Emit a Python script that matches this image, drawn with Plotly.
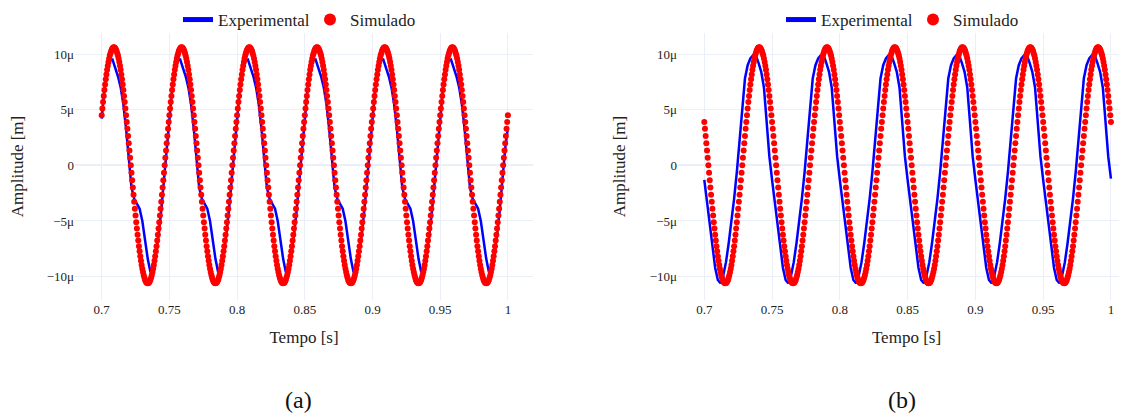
import numpy as np
import plotly.graph_objects as go

# ---------------- data (micrometres) ----------------
# Simulated response, panel (a): one sample every 0.5 ms from t = 0.7 s
sim_a_um = [
    4.51, 5.11, 5.68, 6.23, 6.76, 7.26, 7.73, 8.17, 8.58, 8.95, 9.29, 9.59, 9.86, 10.08, 10.27, 10.41, 10.52, 10.58, 10.60, 10.58, 10.52, 10.41, 10.27, 10.08, 9.86, 9.59, 9.29, 8.95, 8.58, 8.17, 7.73, 7.26, 6.76, 6.23, 5.68, 5.11, 4.51, 3.90, 3.28, 2.64, 1.99, 1.33, 0.67, 0.00, -0.67, -1.33, -1.99, -2.64, -3.28, -3.90, -4.51, -5.11, -5.68, -6.23, -6.76, -7.26, -7.73, -8.17, -8.58, -8.95, -9.29, -9.59, -9.86, -10.08, -10.27, -10.41, -10.52, -10.58, -10.60, -10.58, -10.52, -10.41, -10.27, -10.08, -9.86, -9.59, -9.29, -8.95, -8.58, -8.17, -7.73, -7.26, -6.76, -6.23, -5.68, -5.11, -4.51, -3.90, -3.28, -2.64, -1.99, -1.33, -0.67, 0.00, 0.67, 1.33, 1.99, 2.64, 3.28, 3.90,
    4.51, 5.11, 5.68, 6.23, 6.76, 7.26, 7.73, 8.17, 8.58, 8.95, 9.29, 9.59, 9.86, 10.08, 10.27, 10.41, 10.52, 10.58, 10.60, 10.58, 10.52, 10.41, 10.27, 10.08, 9.86, 9.59, 9.29, 8.95, 8.58, 8.17, 7.73, 7.26, 6.76, 6.23, 5.68, 5.11, 4.51, 3.90, 3.28, 2.64, 1.99, 1.33, 0.67, 0.00, -0.67, -1.33, -1.99, -2.64, -3.28, -3.90, -4.51, -5.11, -5.68, -6.23, -6.76, -7.26, -7.73, -8.17, -8.58, -8.95, -9.29, -9.59, -9.86, -10.08, -10.27, -10.41, -10.52, -10.58, -10.60, -10.58, -10.52, -10.41, -10.27, -10.08, -9.86, -9.59, -9.29, -8.95, -8.58, -8.17, -7.73, -7.26, -6.76, -6.23, -5.68, -5.11, -4.51, -3.90, -3.28, -2.64, -1.99, -1.33, -0.67, 0.00, 0.67, 1.33, 1.99, 2.64, 3.28, 3.90,
    4.51, 5.11, 5.68, 6.23, 6.76, 7.26, 7.73, 8.17, 8.58, 8.95, 9.29, 9.59, 9.86, 10.08, 10.27, 10.41, 10.52, 10.58, 10.60, 10.58, 10.52, 10.41, 10.27, 10.08, 9.86, 9.59, 9.29, 8.95, 8.58, 8.17, 7.73, 7.26, 6.76, 6.23, 5.68, 5.11, 4.51, 3.90, 3.28, 2.64, 1.99, 1.33, 0.67, 0.00, -0.67, -1.33, -1.99, -2.64, -3.28, -3.90, -4.51, -5.11, -5.68, -6.23, -6.76, -7.26, -7.73, -8.17, -8.58, -8.95, -9.29, -9.59, -9.86, -10.08, -10.27, -10.41, -10.52, -10.58, -10.60, -10.58, -10.52, -10.41, -10.27, -10.08, -9.86, -9.59, -9.29, -8.95, -8.58, -8.17, -7.73, -7.26, -6.76, -6.23, -5.68, -5.11, -4.51, -3.90, -3.28, -2.64, -1.99, -1.33, -0.67, 0.00, 0.67, 1.33, 1.99, 2.64, 3.28, 3.90,
    4.51, 5.11, 5.68, 6.23, 6.76, 7.26, 7.73, 8.17, 8.58, 8.95, 9.29, 9.59, 9.86, 10.08, 10.27, 10.41, 10.52, 10.58, 10.60, 10.58, 10.52, 10.41, 10.27, 10.08, 9.86, 9.59, 9.29, 8.95, 8.58, 8.17, 7.73, 7.26, 6.76, 6.23, 5.68, 5.11, 4.51, 3.90, 3.28, 2.64, 1.99, 1.33, 0.67, 0.00, -0.67, -1.33, -1.99, -2.64, -3.28, -3.90, -4.51, -5.11, -5.68, -6.23, -6.76, -7.26, -7.73, -8.17, -8.58, -8.95, -9.29, -9.59, -9.86, -10.08, -10.27, -10.41, -10.52, -10.58, -10.60, -10.58, -10.52, -10.41, -10.27, -10.08, -9.86, -9.59, -9.29, -8.95, -8.58, -8.17, -7.73, -7.26, -6.76, -6.23, -5.68, -5.11, -4.51, -3.90, -3.28, -2.64, -1.99, -1.33, -0.67, 0.00, 0.67, 1.33, 1.99, 2.64, 3.28, 3.90,
    4.51, 5.11, 5.68, 6.23, 6.76, 7.26, 7.73, 8.17, 8.58, 8.95, 9.29, 9.59, 9.86, 10.08, 10.27, 10.41, 10.52, 10.58, 10.60, 10.58, 10.52, 10.41, 10.27, 10.08, 9.86, 9.59, 9.29, 8.95, 8.58, 8.17, 7.73, 7.26, 6.76, 6.23, 5.68, 5.11, 4.51, 3.90, 3.28, 2.64, 1.99, 1.33, 0.67, 0.00, -0.67, -1.33, -1.99, -2.64, -3.28, -3.90, -4.51, -5.11, -5.68, -6.23, -6.76, -7.26, -7.73, -8.17, -8.58, -8.95, -9.29, -9.59, -9.86, -10.08, -10.27, -10.41, -10.52, -10.58, -10.60, -10.58, -10.52, -10.41, -10.27, -10.08, -9.86, -9.59, -9.29, -8.95, -8.58, -8.17, -7.73, -7.26, -6.76, -6.23, -5.68, -5.11, -4.51, -3.90, -3.28, -2.64, -1.99, -1.33, -0.67, 0.00, 0.67, 1.33, 1.99, 2.64, 3.28, 3.90,
    4.51, 5.11, 5.68, 6.23, 6.76, 7.26, 7.73, 8.17, 8.58, 8.95, 9.29, 9.59, 9.86, 10.08, 10.27, 10.41, 10.52, 10.58, 10.60, 10.58, 10.52, 10.41, 10.27, 10.08, 9.86, 9.59, 9.29, 8.95, 8.58, 8.17, 7.73, 7.26, 6.76, 6.23, 5.68, 5.11, 4.51, 3.90, 3.28, 2.64, 1.99, 1.33, 0.67, 0.00, -0.67, -1.33, -1.99, -2.64, -3.28, -3.90, -4.51, -5.11, -5.68, -6.23, -6.76, -7.26, -7.73, -8.17, -8.58, -8.95, -9.29, -9.59, -9.86, -10.08, -10.27, -10.41, -10.52, -10.58, -10.60, -10.58, -10.52, -10.41, -10.27, -10.08, -9.86, -9.59, -9.29, -8.95, -8.58, -8.17, -7.73, -7.26, -6.76, -6.23, -5.68, -5.11, -4.51, -3.90, -3.28, -2.64, -1.99, -1.33, -0.67, 0.00, 0.67, 1.33, 1.99, 2.64, 3.28, 3.90,
    4.51,
]

# Experimental response, panel (a): one sample every 2 ms from t = 0.7 s
exp_a_um = [
    4.2, 6.8, 8.6, 9.4, 9.5, 8.8, 8.0, 7.0, 5.5, 3.3, 0.6, -2.0, -3.0, -3.5, -3.9, -5.0, -6.7, -8.4, -9.6, -9.0, -7.9, -6.3, -4.0, -1.3, 1.5,
    4.2, 6.8, 8.6, 9.4, 9.5, 8.8, 8.0, 7.0, 5.5, 3.3, 0.6, -2.0, -3.0, -3.5, -3.9, -5.0, -6.7, -8.4, -9.6, -9.0, -7.9, -6.3, -4.0, -1.3, 1.5,
    4.2, 6.8, 8.6, 9.4, 9.5, 8.8, 8.0, 7.0, 5.5, 3.3, 0.6, -2.0, -3.0, -3.5, -3.9, -5.0, -6.7, -8.4, -9.6, -9.0, -7.9, -6.3, -4.0, -1.3, 1.5,
    4.2, 6.8, 8.6, 9.4, 9.5, 8.8, 8.0, 7.0, 5.5, 3.3, 0.6, -2.0, -3.0, -3.5, -3.9, -5.0, -6.7, -8.4, -9.6, -9.0, -7.9, -6.3, -4.0, -1.3, 1.5,
    4.2, 6.8, 8.6, 9.4, 9.5, 8.8, 8.0, 7.0, 5.5, 3.3, 0.6, -2.0, -3.0, -3.5, -3.9, -5.0, -6.7, -8.4, -9.6, -9.0, -7.9, -6.3, -4.0, -1.3, 1.5,
    4.2, 6.8, 8.6, 9.4, 9.5, 8.8, 8.0, 7.0, 5.5, 3.3, 0.6, -2.0, -3.0, -3.5, -3.9, -5.0, -6.7, -8.4, -9.6, -9.0, -7.9, -6.3, -4.0, -1.3, 1.5,
    3.4,
]

# Simulated response, panel (b): one sample every 0.5 ms from t = 0.7 s
sim_b_um = [
    3.90, 3.28, 2.64, 1.99, 1.33, 0.67, 0.00, -0.67, -1.33, -1.99, -2.64, -3.28, -3.90, -4.51, -5.11, -5.68, -6.23, -6.76, -7.26, -7.73, -8.17, -8.58, -8.95, -9.29, -9.59, -9.86, -10.08, -10.27, -10.41, -10.52, -10.58, -10.60, -10.58, -10.52, -10.41, -10.27, -10.08, -9.86, -9.59, -9.29, -8.95, -8.58, -8.17, -7.73, -7.26, -6.76, -6.23, -5.68, -5.11, -4.51, -3.90, -3.28, -2.64, -1.99, -1.33, -0.67, 0.00, 0.67, 1.33, 1.99, 2.64, 3.28, 3.90, 4.51, 5.11, 5.68, 6.23, 6.76, 7.26, 7.73, 8.17, 8.58, 8.95, 9.29, 9.59, 9.86, 10.08, 10.27, 10.41, 10.52, 10.58, 10.60, 10.58, 10.52, 10.41, 10.27, 10.08, 9.86, 9.59, 9.29, 8.95, 8.58, 8.17, 7.73, 7.26, 6.76, 6.23, 5.68, 5.11, 4.51,
    3.90, 3.28, 2.64, 1.99, 1.33, 0.67, 0.00, -0.67, -1.33, -1.99, -2.64, -3.28, -3.90, -4.51, -5.11, -5.68, -6.23, -6.76, -7.26, -7.73, -8.17, -8.58, -8.95, -9.29, -9.59, -9.86, -10.08, -10.27, -10.41, -10.52, -10.58, -10.60, -10.58, -10.52, -10.41, -10.27, -10.08, -9.86, -9.59, -9.29, -8.95, -8.58, -8.17, -7.73, -7.26, -6.76, -6.23, -5.68, -5.11, -4.51, -3.90, -3.28, -2.64, -1.99, -1.33, -0.67, 0.00, 0.67, 1.33, 1.99, 2.64, 3.28, 3.90, 4.51, 5.11, 5.68, 6.23, 6.76, 7.26, 7.73, 8.17, 8.58, 8.95, 9.29, 9.59, 9.86, 10.08, 10.27, 10.41, 10.52, 10.58, 10.60, 10.58, 10.52, 10.41, 10.27, 10.08, 9.86, 9.59, 9.29, 8.95, 8.58, 8.17, 7.73, 7.26, 6.76, 6.23, 5.68, 5.11, 4.51,
    3.90, 3.28, 2.64, 1.99, 1.33, 0.67, 0.00, -0.67, -1.33, -1.99, -2.64, -3.28, -3.90, -4.51, -5.11, -5.68, -6.23, -6.76, -7.26, -7.73, -8.17, -8.58, -8.95, -9.29, -9.59, -9.86, -10.08, -10.27, -10.41, -10.52, -10.58, -10.60, -10.58, -10.52, -10.41, -10.27, -10.08, -9.86, -9.59, -9.29, -8.95, -8.58, -8.17, -7.73, -7.26, -6.76, -6.23, -5.68, -5.11, -4.51, -3.90, -3.28, -2.64, -1.99, -1.33, -0.67, 0.00, 0.67, 1.33, 1.99, 2.64, 3.28, 3.90, 4.51, 5.11, 5.68, 6.23, 6.76, 7.26, 7.73, 8.17, 8.58, 8.95, 9.29, 9.59, 9.86, 10.08, 10.27, 10.41, 10.52, 10.58, 10.60, 10.58, 10.52, 10.41, 10.27, 10.08, 9.86, 9.59, 9.29, 8.95, 8.58, 8.17, 7.73, 7.26, 6.76, 6.23, 5.68, 5.11, 4.51,
    3.90, 3.28, 2.64, 1.99, 1.33, 0.67, 0.00, -0.67, -1.33, -1.99, -2.64, -3.28, -3.90, -4.51, -5.11, -5.68, -6.23, -6.76, -7.26, -7.73, -8.17, -8.58, -8.95, -9.29, -9.59, -9.86, -10.08, -10.27, -10.41, -10.52, -10.58, -10.60, -10.58, -10.52, -10.41, -10.27, -10.08, -9.86, -9.59, -9.29, -8.95, -8.58, -8.17, -7.73, -7.26, -6.76, -6.23, -5.68, -5.11, -4.51, -3.90, -3.28, -2.64, -1.99, -1.33, -0.67, 0.00, 0.67, 1.33, 1.99, 2.64, 3.28, 3.90, 4.51, 5.11, 5.68, 6.23, 6.76, 7.26, 7.73, 8.17, 8.58, 8.95, 9.29, 9.59, 9.86, 10.08, 10.27, 10.41, 10.52, 10.58, 10.60, 10.58, 10.52, 10.41, 10.27, 10.08, 9.86, 9.59, 9.29, 8.95, 8.58, 8.17, 7.73, 7.26, 6.76, 6.23, 5.68, 5.11, 4.51,
    3.90, 3.28, 2.64, 1.99, 1.33, 0.67, 0.00, -0.67, -1.33, -1.99, -2.64, -3.28, -3.90, -4.51, -5.11, -5.68, -6.23, -6.76, -7.26, -7.73, -8.17, -8.58, -8.95, -9.29, -9.59, -9.86, -10.08, -10.27, -10.41, -10.52, -10.58, -10.60, -10.58, -10.52, -10.41, -10.27, -10.08, -9.86, -9.59, -9.29, -8.95, -8.58, -8.17, -7.73, -7.26, -6.76, -6.23, -5.68, -5.11, -4.51, -3.90, -3.28, -2.64, -1.99, -1.33, -0.67, 0.00, 0.67, 1.33, 1.99, 2.64, 3.28, 3.90, 4.51, 5.11, 5.68, 6.23, 6.76, 7.26, 7.73, 8.17, 8.58, 8.95, 9.29, 9.59, 9.86, 10.08, 10.27, 10.41, 10.52, 10.58, 10.60, 10.58, 10.52, 10.41, 10.27, 10.08, 9.86, 9.59, 9.29, 8.95, 8.58, 8.17, 7.73, 7.26, 6.76, 6.23, 5.68, 5.11, 4.51,
    3.90, 3.28, 2.64, 1.99, 1.33, 0.67, 0.00, -0.67, -1.33, -1.99, -2.64, -3.28, -3.90, -4.51, -5.11, -5.68, -6.23, -6.76, -7.26, -7.73, -8.17, -8.58, -8.95, -9.29, -9.59, -9.86, -10.08, -10.27, -10.41, -10.52, -10.58, -10.60, -10.58, -10.52, -10.41, -10.27, -10.08, -9.86, -9.59, -9.29, -8.95, -8.58, -8.17, -7.73, -7.26, -6.76, -6.23, -5.68, -5.11, -4.51, -3.90, -3.28, -2.64, -1.99, -1.33, -0.67, 0.00, 0.67, 1.33, 1.99, 2.64, 3.28, 3.90, 4.51, 5.11, 5.68, 6.23, 6.76, 7.26, 7.73, 8.17, 8.58, 8.95, 9.29, 9.59, 9.86, 10.08, 10.27, 10.41, 10.52, 10.58, 10.60, 10.58, 10.52, 10.41, 10.27, 10.08, 9.86, 9.59, 9.29, 8.95, 8.58, 8.17, 7.73, 7.26, 6.76, 6.23, 5.68, 5.11, 4.51,
    3.90,
]

# Experimental response, panel (b): one sample every 2 ms from t = 0.7 s
exp_b_um = [
    -1.3, -3.4, -5.4, -7.4, -9.2, -10.3, -10.6, -9.9, -8.7, -7.0, -5.1, -3.0, -0.6, 2.3, 5.3, 7.8, 9.0, 9.6, 9.9, 9.9, 9.2, 8.4, 7.0, 3.9, 0.8,
    -1.3, -3.4, -5.4, -7.4, -9.2, -10.3, -10.6, -9.9, -8.7, -7.0, -5.1, -3.0, -0.6, 2.3, 5.3, 7.8, 9.0, 9.6, 9.9, 9.9, 9.2, 8.4, 7.0, 3.9, 0.8,
    -1.3, -3.4, -5.4, -7.4, -9.2, -10.3, -10.6, -9.9, -8.7, -7.0, -5.1, -3.0, -0.6, 2.3, 5.3, 7.8, 9.0, 9.6, 9.9, 9.9, 9.2, 8.4, 7.0, 3.9, 0.8,
    -1.3, -3.4, -5.4, -7.4, -9.2, -10.3, -10.6, -9.9, -8.7, -7.0, -5.1, -3.0, -0.6, 2.3, 5.3, 7.8, 9.0, 9.6, 9.9, 9.9, 9.2, 8.4, 7.0, 3.9, 0.8,
    -1.3, -3.4, -5.4, -7.4, -9.2, -10.3, -10.6, -9.9, -8.7, -7.0, -5.1, -3.0, -0.6, 2.3, 5.3, 7.8, 9.0, 9.6, 9.9, 9.9, 9.2, 8.4, 7.0, 3.9, 0.8,
    -1.3, -3.4, -5.4, -7.4, -9.2, -10.3, -10.6, -9.9, -8.7, -7.0, -5.1, -3.0, -0.6, 2.3, 5.3, 7.8, 9.0, 9.6, 9.9, 9.9, 9.2, 8.4, 7.0, 3.9, 0.8,
    -1.2,
]

T_START = 0.7      # s
DT_SIM = 0.0005    # s
DT_EXP = 0.002     # s
UM = 1e-6

series_names = ["Experimental", "Simulado"]
panel_labels = ["(a)", "(b)"]


def times(n, dt):
    return np.round(T_START + dt * np.arange(n), 5)


FONT = "Liberation Serif"
BLUE = "#0000FF"
RED = "#FF0000"

fig = go.Figure()
panels = [
    (exp_a_um, sim_a_um, "x", "y", "legend"),
    (exp_b_um, sim_b_um, "x2", "y2", "legend2"),
]
for exp_um, sim_um, xa, ya, lg in panels:
    fig.add_trace(go.Scatter(
        x=times(len(exp_um), DT_EXP), y=np.array(exp_um) * UM,
        mode="lines", name=series_names[0],
        line=dict(color=BLUE, width=2.5),
        xaxis=xa, yaxis=ya, legend=lg,
    ))
    fig.add_trace(go.Scatter(
        x=times(len(sim_um), DT_SIM), y=np.array(sim_um) * UM,
        mode="markers", name=series_names[1],
        marker=dict(color=RED, size=6),
        xaxis=xa, yaxis=ya, legend=lg,
    ))

W, H = 1127, 413
ML, MR, MT, MB = 67, 0, 25, 121
PW = W - ML - MR
PH = H - MT - MB


def px_x(px):
    return (px - ML) / PW


def px_y(py):
    return (H - MB - py) / PH


xcommon = dict(dtick=0.05, tick0=0.7, showgrid=True, zeroline=False,
               gridcolor="#EBF0F8", tickfont=dict(size=13), automargin=False,
               title=dict(text="Tempo [s]", font=dict(size=17), standoff=15))
ycommon = dict(dtick=5e-6, range=[-12.10e-6, 11.89e-6], showgrid=True,
               gridcolor="#EBF0F8", zeroline=True, zerolinecolor="#EBF0F8",
               zerolinewidth=2, tickfont=dict(size=13), automargin=False,
               title=dict(text="Amplitude [m]", font=dict(size=17), standoff=19))

legend_common = dict(orientation="h", xanchor="center", yanchor="middle", y=px_y(12),
                     font=dict(size=17), itemsizing="constant", entrywidth=87,
                     bgcolor="rgba(0,0,0,0)")

fig.update_layout(
    template="plotly_white",
    width=W, height=H,
    margin=dict(l=ML, r=MR, t=MT, b=MB, autoexpand=False),
    font=dict(family=FONT, size=13, color="#222222"),
    plot_bgcolor="white", paper_bgcolor="white",
    xaxis=dict(domain=[px_x(67), px_x(525)], range=[0.68028, 1.01854], anchor="y", **xcommon),
    yaxis=dict(domain=[0, 1], anchor="x", **ycommon),
    xaxis2=dict(domain=[px_x(670), px_x(1127)], range=[0.68060, 1.01775], anchor="y2", **xcommon),
    yaxis2=dict(domain=[0, 1], anchor="x2", **ycommon),
    legend=dict(x=px_x(302), **legend_common),
    legend2=dict(x=px_x(905), **legend_common),
    annotations=[
        dict(text=panel_labels[0], x=px_x(290.3), y=px_y(392), xref="paper", yref="paper",
             xanchor="center", yanchor="middle",
             showarrow=False, font=dict(size=24, family=FONT, color="#111111")),
        dict(text=panel_labels[1], x=px_x(893.7), y=px_y(392), xref="paper", yref="paper",
             xanchor="center", yanchor="middle",
             showarrow=False, font=dict(size=24, family=FONT, color="#111111")),
    ],
)

fig.write_html("out.html")
